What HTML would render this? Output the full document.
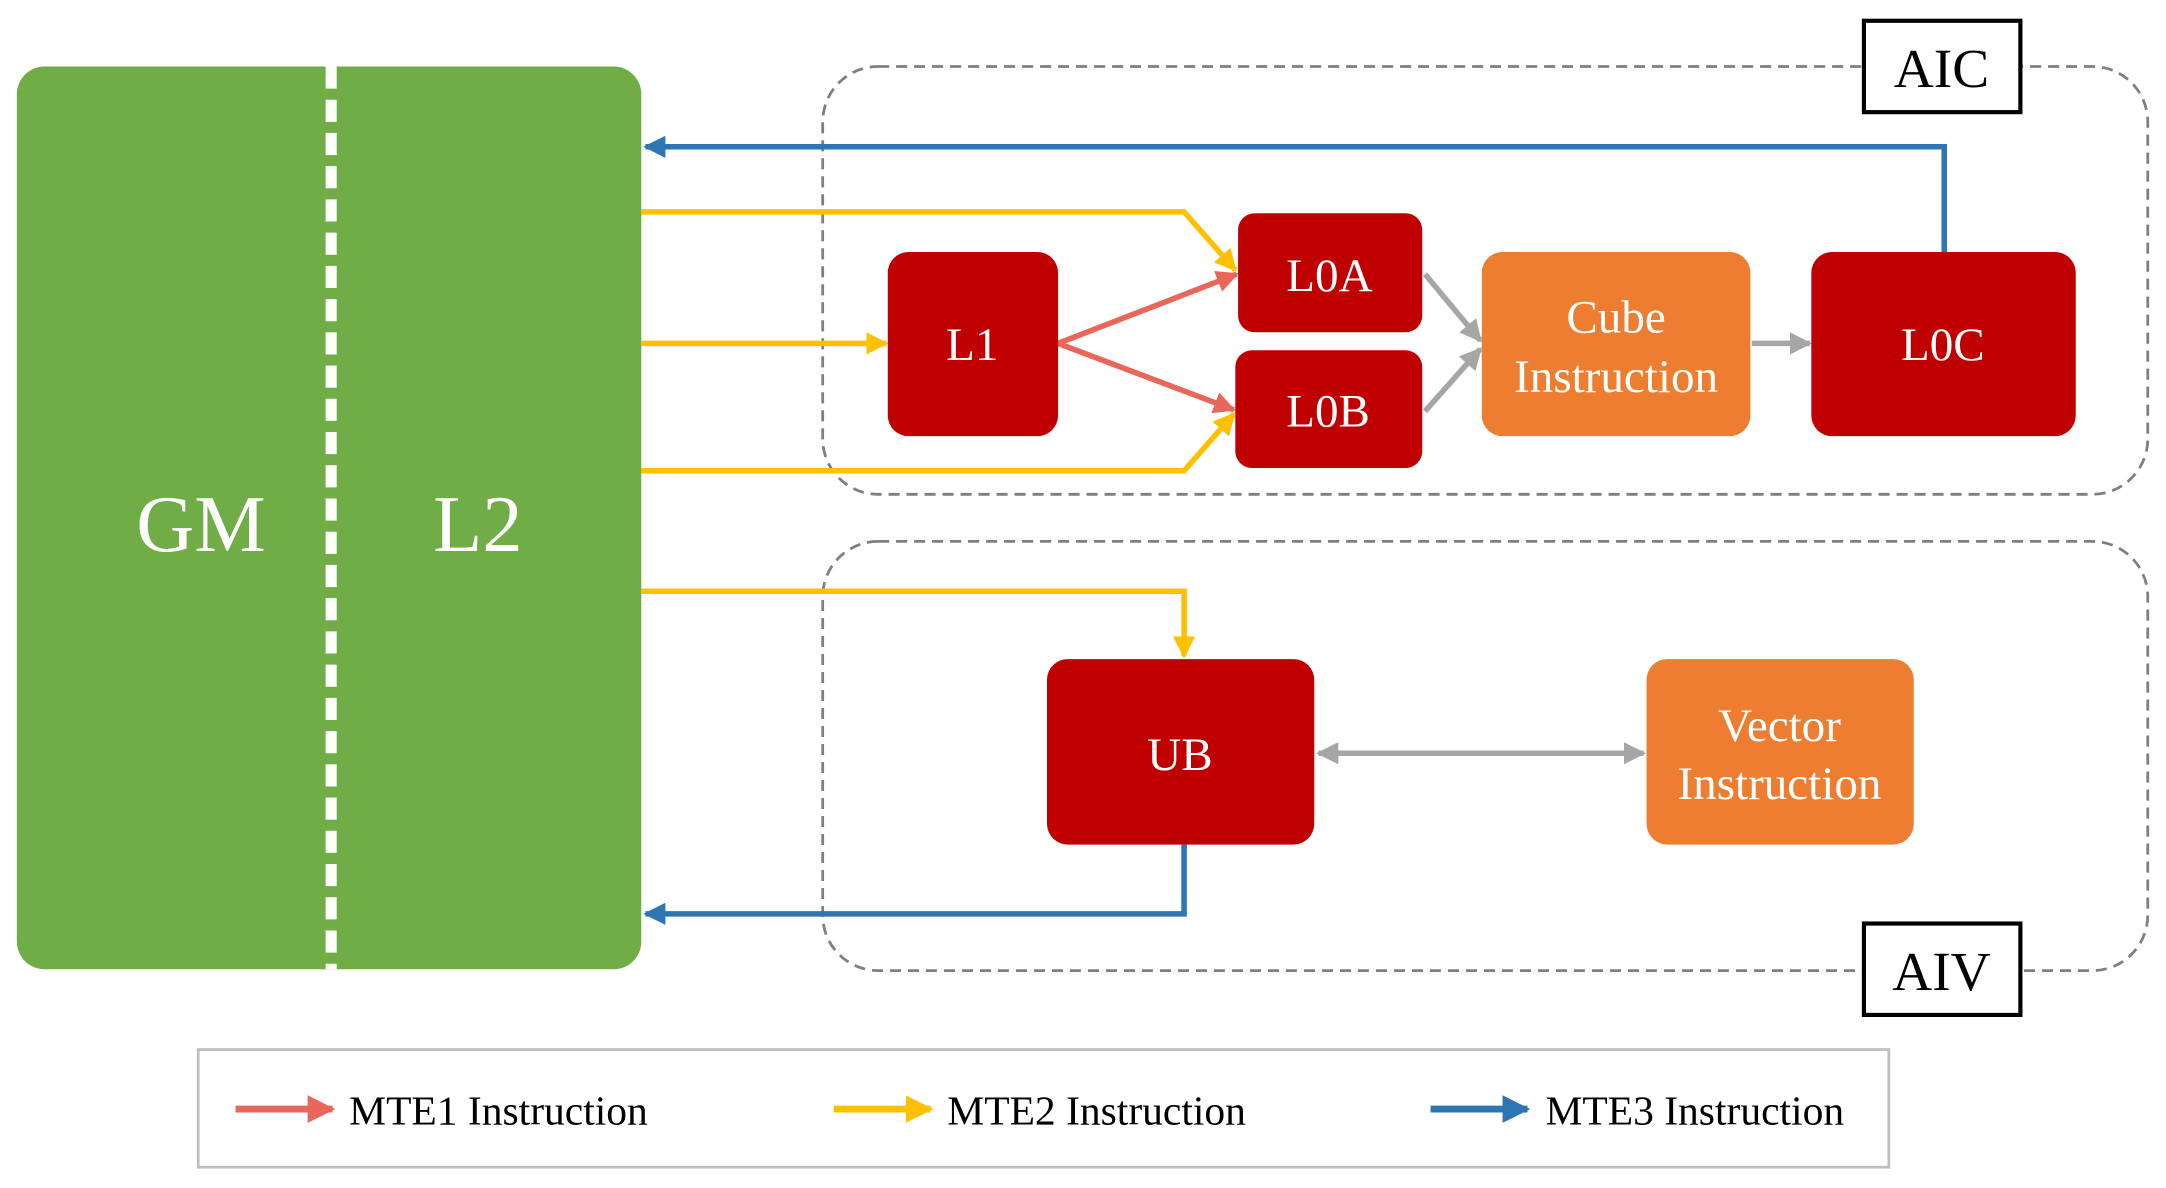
<!DOCTYPE html>
<html><head><meta charset="utf-8"><style>
html,body{margin:0;padding:0;background:#fff;width:2166px;height:1188px;overflow:hidden}
svg{display:block}
text{font-family:"Liberation Serif",serif}
</style></head><body>
<svg width="2166" height="1188" viewBox="0 0 1564 858" xmlns="http://www.w3.org/2000/svg">
<defs>
<marker id="ab" viewBox="0 0 10 10" refX="9" refY="5" markerWidth="4" markerHeight="4" orient="auto-start-reverse"><path d="M0,0L10,5L0,10z" fill="#2E75B6"/></marker>
<marker id="ay" viewBox="0 0 10 10" refX="9" refY="5" markerWidth="4" markerHeight="4" orient="auto-start-reverse"><path d="M0,0L10,5L0,10z" fill="#FFC000"/></marker>
<marker id="ar" viewBox="0 0 10 10" refX="9" refY="5" markerWidth="4" markerHeight="4" orient="auto-start-reverse"><path d="M0,0L10,5L0,10z" fill="#E8675A"/></marker>
<marker id="ag" viewBox="0 0 10 10" refX="9" refY="5" markerWidth="4" markerHeight="4" orient="auto-start-reverse"><path d="M0,0L10,5L0,10z" fill="#A6A6A6"/></marker>
</defs>
<!-- dashed containers -->
<rect x="594" y="48" width="957" height="309" rx="40" fill="none" stroke="#7f7f7f" stroke-width="2" stroke-dasharray="8,5"/>
<rect x="594" y="391" width="957" height="310" rx="40" fill="none" stroke="#7f7f7f" stroke-width="2" stroke-dasharray="8,5"/>
<!-- green -->
<rect x="12" y="48" width="451" height="652" rx="20" fill="#70AD47"/>
<line x1="239" y1="48" x2="239" y2="700" stroke="#fff" stroke-width="8" stroke-dasharray="16,8"/>
<text x="145" y="398" font-size="58" fill="#fff" text-anchor="middle">GM</text>
<text x="345" y="398" font-size="58" fill="#fff" text-anchor="middle">L2</text>
<!-- labels -->
<rect x="1346" y="15" width="113" height="66" fill="#fff" stroke="#000" stroke-width="3"/>
<text x="1402" y="63" font-size="40" text-anchor="middle">AIC</text>
<rect x="1346" y="667" width="113" height="66" fill="#fff" stroke="#000" stroke-width="3"/>
<text x="1402" y="715" font-size="40" text-anchor="middle">AIV</text>
<!-- connectors -->
<g fill="none" stroke-width="4">
<path d="M1404,182V106H466" stroke="#2E75B6" marker-end="url(#ab)"/>
<path d="M855,610V660H466" stroke="#2E75B6" marker-end="url(#ab)"/>
<path d="M463,153H855L892,195" stroke="#FFC000" marker-end="url(#ay)"/>
<path d="M463,248H640" stroke="#FFC000" marker-end="url(#ay)"/>
<path d="M463,340H855L891,299" stroke="#FFC000" marker-end="url(#ay)"/>
<path d="M463,427H855V474" stroke="#FFC000" marker-end="url(#ay)"/>
<path d="M764,248L893,198" stroke="#E8675A" marker-end="url(#ar)"/>
<path d="M764,248L891,296" stroke="#E8675A" marker-end="url(#ar)"/>
<path d="M1029,198L1069,246" stroke="#A6A6A6" marker-end="url(#ag)"/>
<path d="M1029,297L1069,252" stroke="#A6A6A6" marker-end="url(#ag)"/>
<path d="M1265,248H1307" stroke="#A6A6A6" marker-end="url(#ag)"/>
<path d="M952,544H1187" stroke="#A6A6A6" marker-start="url(#ag)" marker-end="url(#ag)"/>
</g>
<!-- nodes -->
<g fill="#C00000">
<rect x="641" y="182" width="123" height="133" rx="15"/>
<rect x="894" y="154" width="133" height="86" rx="12"/>
<rect x="892" y="253" width="135" height="85" rx="12"/>
<rect x="1308" y="182" width="191" height="133" rx="15"/>
<rect x="756" y="476" width="193" height="134" rx="15"/>
</g>
<g fill="#ED7D31">
<rect x="1070" y="182" width="194" height="133" rx="15"/>
<rect x="1189" y="476" width="193" height="134" rx="15"/>
</g>
<g fill="#fff" font-size="34" text-anchor="middle">
<text x="702" y="260">L1</text>
<text x="960" y="210">L0A</text>
<text x="959" y="308">L0B</text>
<text x="1403" y="260">L0C</text>
<text x="852" y="556">UB</text>
<text x="1167" y="240">Cube</text>
<text x="1167" y="283">Instruction</text>
<text x="1285" y="535">Vector</text>
<text x="1285" y="577">Instruction</text>
</g>
<!-- legend -->
<rect x="143" y="758" width="1221" height="85" fill="none" stroke="#bfbfbf" stroke-width="2"/>
<g stroke-width="5">
<line x1="170" y1="801" x2="240" y2="801" stroke="#E8675A" marker-end="url(#ar)"/>
<line x1="602" y1="801" x2="672" y2="801" stroke="#FFC000" marker-end="url(#ay)"/>
<line x1="1033" y1="801" x2="1103" y2="801" stroke="#2E75B6" marker-end="url(#ab)"/>
</g>
<g font-size="30">
<text x="252" y="812">MTE1 Instruction</text>
<text x="684" y="812">MTE2 Instruction</text>
<text x="1116" y="812">MTE3 Instruction</text>
</g>
</svg>
</body></html>
